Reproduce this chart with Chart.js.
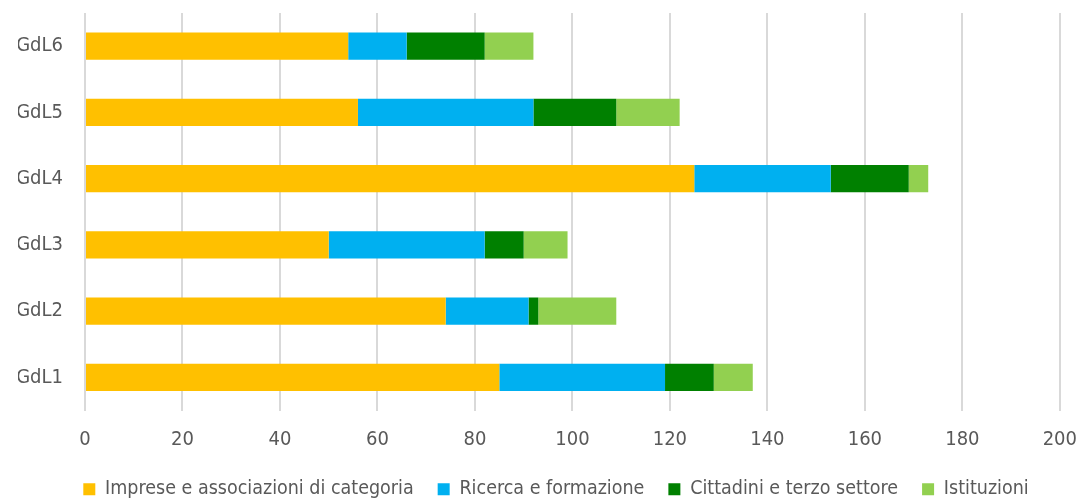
<!DOCTYPE html>
<html>
<head>
<meta charset="utf-8">
<script src="https://cdn.jsdelivr.net/npm/chart.js@4"></script>
<style>
  html, body { margin: 0; padding: 0; background: #fff; overflow: hidden; }
  #wrap { width: 1076px; height: 530px; margin-top: -21px; margin-left: 18px; }
</style>
</head>
<body>
<div id="wrap"><canvas id="chart"></canvas></div>
<script>
// Categories, bottom to top
const groups = ['GdL1', 'GdL2', 'GdL3', 'GdL4', 'GdL5', 'GdL6'];

// Series values (per group, same order)
const imprese    = [85, 74, 50, 125, 56, 54];
const ricerca    = [34, 17, 32, 28, 36, 12];
const cittadini  = [10, 2, 8, 16, 17, 16];
const istituzioni = [8, 16, 9, 4, 13, 10];

const seriesNames = [
  'Imprese e associazioni di categoria',
  'Ricerca e formazione',
  'Cittadini e terzo settore',
  'Istituzioni'
];

const FONT = "'Liberation Sans Narrow', 'DejaVu Sans Condensed', 'Liberation Sans', sans-serif";
const TEXT = '#595959';

const ds = (label, data, color) => ({
  label,
  data,
  backgroundColor: color,
  borderWidth: 0,
  barPercentage: 0.41,
  categoryPercentage: 1.0
});

new Chart(document.getElementById('chart'), {
  type: 'bar',
  data: {
    labels: groups,
    datasets: [
      ds(seriesNames[0], imprese, '#FFC000'),
      ds(seriesNames[1], ricerca, '#00B0F0'),
      ds(seriesNames[2], cittadini, '#008000'),
      ds(seriesNames[3], istituzioni, '#92D050')
    ]
  },
  options: {
    indexAxis: 'y',
    responsive: true,
    maintainAspectRatio: false,
    animation: false,
    layout: { padding: 0 },
    plugins: {
      legend: {
        position: 'bottom',
        labels: {
          color: TEXT,
          font: { family: FONT, size: 19.5 },
          boxWidth: 12,
          boxHeight: 12,
          padding: 24
        }
      },
      tooltip: { enabled: false }
    },
    scales: {
      x: {
        stacked: true,
        min: 0,
        max: 200,
        afterFit: (scale) => { scale.height -= 13; },
        ticks: { stepSize: 20, color: TEXT, font: { family: FONT, size: 20 }, padding: 17 },
        grid: { color: '#d9d9d9', lineWidth: 2, drawTicks: false },
        border: { display: false }
      },
      y: {
        stacked: true,
        reverse: true,
        afterFit: (scale) => { scale.width = 67; },
        ticks: { color: TEXT, font: { family: FONT, size: 20 }, padding: 22 },
        grid: { display: false, drawTicks: false },
        border: { display: false }
      }
    }
  }
});
</script>
</body>
</html>
